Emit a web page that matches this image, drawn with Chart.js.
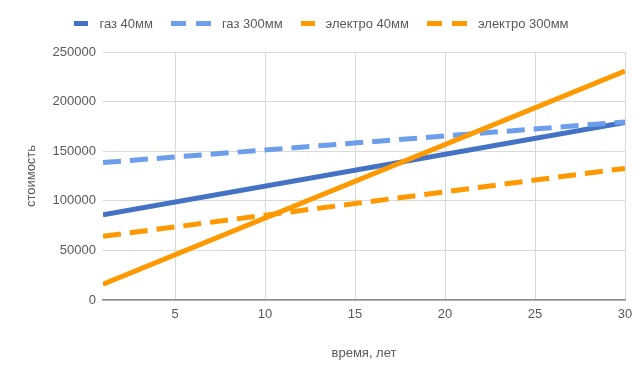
<!DOCTYPE html>
<html>
<head>
<meta charset="utf-8">
<script src="https://cdn.jsdelivr.net/npm/chart.js@4.4.1/dist/chart.umd.min.js"></script>
<style>
html,body{margin:0;padding:0;background:#ffffff;}
#wrap{position:relative;width:643px;height:376px;overflow:hidden;}
#legend{position:absolute;top:1px;left:0;width:643px;height:44px;display:flex;justify-content:center;align-items:center;font:13px "Liberation Sans",Arial,sans-serif;color:#595959;z-index:2;}
.item{display:flex;align-items:center;margin:0 9px;}
.mk{display:flex;align-items:center;margin-right:11px;}
.mk span{display:block;height:5px;}
#c{position:absolute;top:0;left:0;}
</style>
</head>
<body>
<div id="wrap">
  <div id="legend"></div>
  <canvas id="c" width="643" height="376"></canvas>
</div>
<script>
// ---- data ----
const years = [1, 30];                       // время, лет (straight lines: start / end)
const gas40 = [86000, 179000];
const gas300 = [138500, 179500];
const electro40 = [16000, 230700];
const electro300 = [64200, 132700];
const seriesNames = ['газ 40мм', 'газ 300мм', 'электро 40мм', 'электро 300мм'];
const xTicks = [5, 10, 15, 20, 25, 30];
const yTicks = [0, 50000, 100000, 150000, 200000, 250000];
const xTitle = 'время, лет';
const yTitle = 'стоимость';

const colors = ['#4472C4', '#6D9EEB', '#FF9900', '#FF9900'];
const dashed = [false, true, false, true];
const values = [gas40, gas300, electro40, electro300];

const FONT = '"Liberation Sans", Arial, sans-serif';
const TXT = '#595959';

const datasets = values.map((vals, i) => ({
  label: seriesNames[i],
  data: years.map((x, k) => ({ x: x, y: vals[k] })),
  borderColor: colors[i],
  backgroundColor: colors[i],
  borderWidth: 5,
  borderDash: dashed[i] ? [18, 9] : [],
  borderCapStyle: 'butt',
  pointRadius: 0,
  pointHoverRadius: 0,
  tension: 0,
  fill: false,
  order: 3 - i
}));

// HTML legend
const legend = document.getElementById('legend');
seriesNames.forEach((name, i) => {
  const item = document.createElement('div');
  item.className = 'item';
  const mk = document.createElement('div');
  mk.className = 'mk';
  if (dashed[i]) {
    for (let k = 0; k < 2; k++) {
      const s = document.createElement('span');
      s.style.width = '15px';
      s.style.background = colors[i];
      if (k === 0) s.style.marginRight = '10px';
      mk.appendChild(s);
    }
  } else {
    const s = document.createElement('span');
    s.style.width = '14px';
    s.style.background = colors[i];
    mk.appendChild(s);
  }
  const t = document.createElement('span');
  t.textContent = name;
  item.appendChild(mk);
  item.appendChild(t);
  legend.appendChild(item);
});

new Chart(document.getElementById('c'), {
  type: 'line',
  data: { datasets: datasets },
  options: {
    responsive: false,
    animation: false,
    events: [],
    layout: { padding: { top: 52, right: 18, bottom: 0, left: 0 } },
    plugins: { legend: { display: false }, tooltip: { enabled: false } },
    scales: {
      x: {
        type: 'linear',
        min: years[0],
        max: years[years.length - 1],
        afterBuildTicks: s => { s.ticks = xTicks.map(v => ({ value: v })); },
        afterFit: s => { s.height = 76; },
        grid: { color: '#d9d9d9', lineWidth: 1, drawTicks: false },
        border: { display: true, color: '#8c8c8c', width: 1.5 },
        ticks: { padding: 7, color: TXT, font: { family: FONT, size: 13 }, maxRotation: 0, callback: v => String(v) },
        title: { display: true, text: xTitle, color: TXT, font: { family: FONT, size: 13 }, padding: { top: 4, bottom: 15 } }
      },
      y: {
        min: yTicks[0],
        max: yTicks[yTicks.length - 1],
        afterBuildTicks: s => { s.ticks = yTicks.map(v => ({ value: v })); },
        afterFit: s => { s.width = 103; },
        grid: { color: '#d9d9d9', lineWidth: 1, drawTicks: false },
        border: { display: false },
        ticks: { padding: 7, color: TXT, font: { family: FONT, size: 13 }, callback: v => String(v) },
        title: { display: true, text: yTitle, color: TXT, font: { family: FONT, size: 13 }, padding: { top: 24, bottom: 0 } }
      }
    }
  }
});
</script>
</body>
</html>
